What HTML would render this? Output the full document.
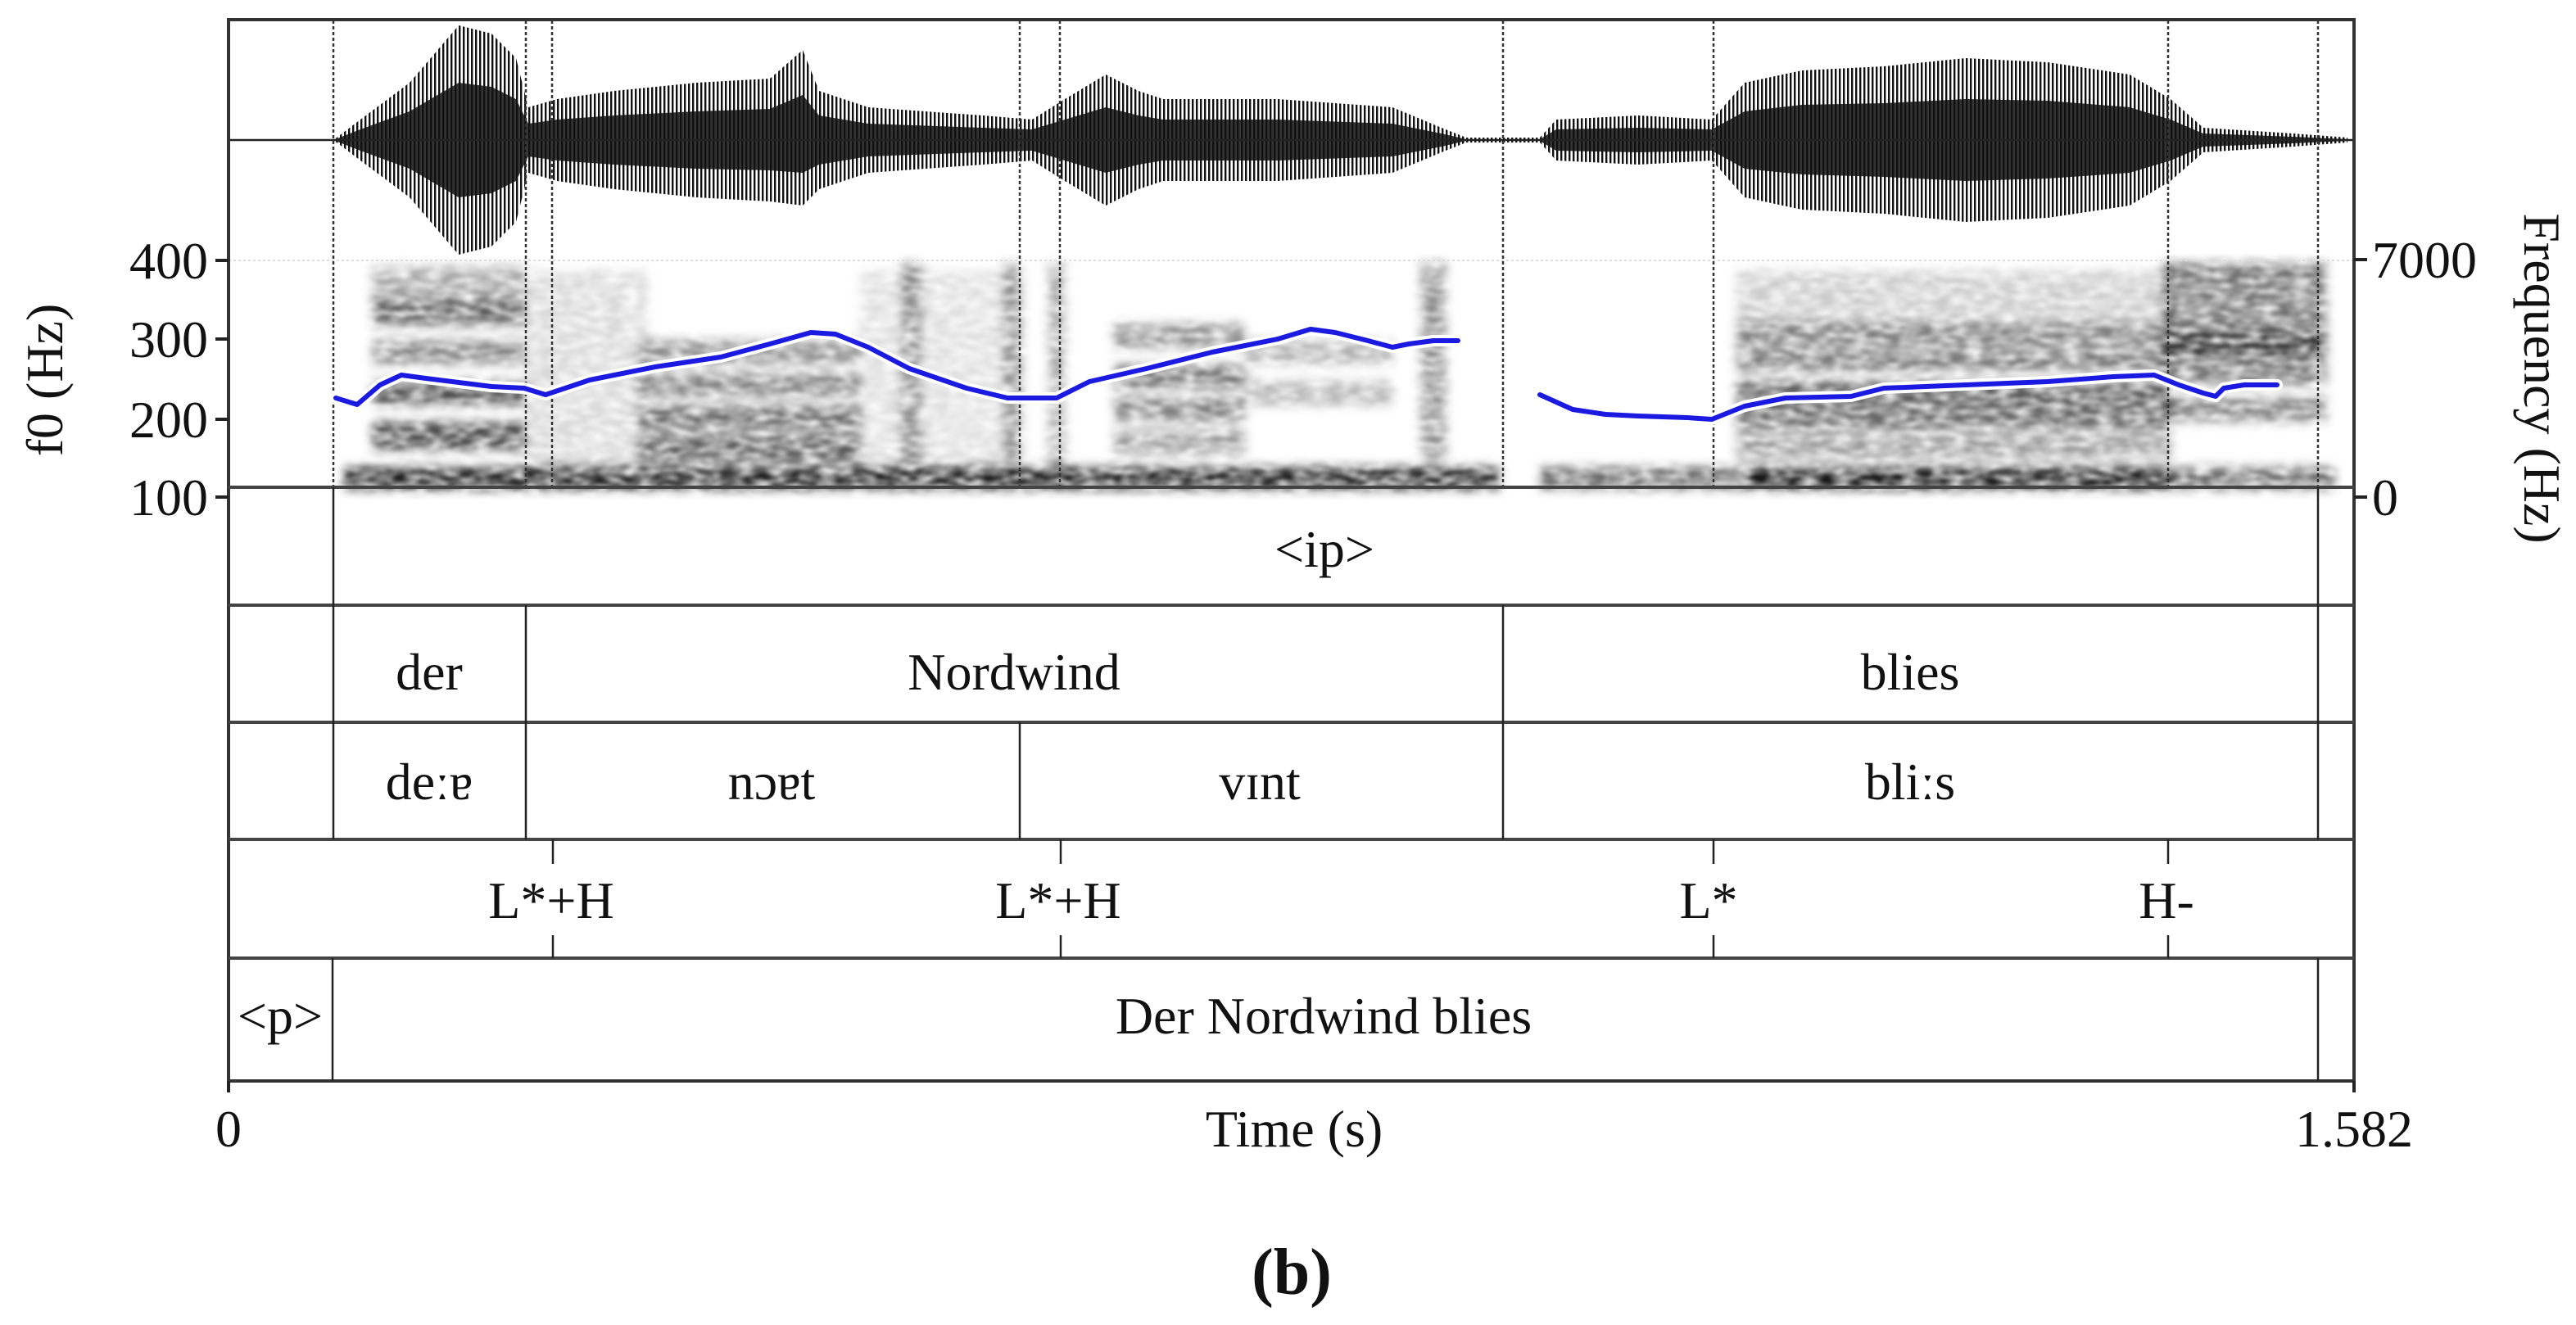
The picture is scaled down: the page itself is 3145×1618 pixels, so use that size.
<!DOCTYPE html>
<html><head><meta charset="utf-8">
<style>
html,body{margin:0;padding:0;background:#fff;}
#wrap{position:relative;width:3145px;height:1618px;overflow:hidden;background:#fff;}
svg{position:absolute;left:0;top:0;}
text{font-family:"Liberation Serif","DejaVu Serif",serif;fill:#111;}
</style></head>
<body>
<div id="wrap">
<svg width="3145" height="1618" viewBox="0 0 3145 1618">
  <defs>
    <pattern id="stripes" x="0" y="0" width="5" height="10" patternUnits="userSpaceOnUse">
      <rect x="0" y="0" width="2.4" height="10" fill="#111"/>
    </pattern>
    <filter id="sp" x="400" y="310" width="2460" height="300" filterUnits="userSpaceOnUse">
      <feGaussianBlur in="SourceGraphic" stdDeviation="6" result="b"/>
      <feTurbulence type="fractalNoise" baseFrequency="0.05 0.15" numOctaves="2" seed="3" result="n"/>
      <feColorMatrix in="n" type="matrix" values="0 0 0 0 0  0 0 0 0 0  0 0 0 0 0  1.8 0 0 0 -0.25" result="na"/>
      <feComposite in="b" in2="na" operator="in" result="c"/>
      <feGaussianBlur in="c" stdDeviation="2"/>
    </filter>
  </defs>

  <!-- spectrogram -->
  <g filter="url(#sp)" fill="#000">
    <rect x="420" y="570" width="1410" height="28" opacity="0.9"/>
    <rect x="1880" y="570" width="970" height="28" opacity="0.6"/>
    <rect x="2130" y="570" width="520" height="28" opacity="0.85"/>
    <rect x="455" y="325" width="185" height="75" opacity="0.35"/>
    <rect x="455" y="365" width="185" height="30" opacity="0.45"/>
    <rect x="455" y="415" width="185" height="30" opacity="0.5"/>
    <rect x="455" y="465" width="185" height="30" opacity="0.7"/>
    <rect x="455" y="515" width="185" height="35" opacity="0.75"/>
    <rect x="640" y="330" width="150" height="260" opacity="0.15"/>
    <rect x="780" y="415" width="270" height="30" opacity="0.45"/>
    <rect x="780" y="455" width="270" height="30" opacity="0.5"/>
    <rect x="780" y="495" width="270" height="30" opacity="0.6"/>
    <rect x="780" y="530" width="270" height="35" opacity="0.65"/>
    <rect x="1050" y="330" width="200" height="260" opacity="0.12"/>
    <rect x="1100" y="320" width="25" height="270" opacity="0.4"/>
    <rect x="1225" y="320" width="20" height="270" opacity="0.4"/>
    <rect x="1280" y="320" width="20" height="270" opacity="0.35"/>
    <rect x="1360" y="395" width="160" height="30" opacity="0.45"/>
    <rect x="1360" y="445" width="160" height="30" opacity="0.55"/>
    <rect x="1360" y="485" width="160" height="30" opacity="0.5"/>
    <rect x="1360" y="525" width="160" height="30" opacity="0.4"/>
    <rect x="1520" y="415" width="180" height="30" opacity="0.3"/>
    <rect x="1520" y="465" width="180" height="30" opacity="0.3"/>
    <rect x="1735" y="320" width="30" height="240" opacity="0.45"/>
    <rect x="2120" y="330" width="530" height="70" opacity="0.2"/>
    <rect x="2120" y="395" width="530" height="30" opacity="0.5"/>
    <rect x="2120" y="428" width="530" height="25" opacity="0.55"/>
    <rect x="2120" y="465" width="530" height="30" opacity="0.65"/>
    <rect x="2120" y="495" width="530" height="30" opacity="0.6"/>
    <rect x="2120" y="530" width="530" height="30" opacity="0.4"/>
    <rect x="2640" y="320" width="200" height="150" opacity="0.55"/>
    <rect x="2640" y="405" width="200" height="30" opacity="0.6"/>
    <rect x="2640" y="485" width="200" height="30" opacity="0.5"/>
  </g>

  <!-- waveform -->
  <polygon fill="url(#stripes)" points="407,171 440,146 500,101 560,31 600,41 630,71 645,131 680,121 750,111 850,101 940,96 980,61 1000,111 1060,131 1200,141 1260,146 1300,121 1350,91 1390,111 1420,121 1560,121 1700,131 1760,156 1790,168 1880,168 1900,146 2000,141 2090,146 2130,101 2200,86 2300,81 2400,71 2500,76 2600,91 2650,121 2690,156 2800,163 2866,168 2866,174 2800,179 2690,186 2650,221 2600,251 2500,266 2400,271 2300,261 2200,256 2130,241 2090,196 2000,201 1900,196 1880,174 1790,174 1760,186 1700,211 1560,221 1420,221 1390,231 1350,251 1300,221 1260,196 1200,201 1060,211 1000,231 980,251 940,246 850,241 750,231 680,221 645,211 630,271 600,301 560,311 500,241 440,196 407,171"/>
  <polygon fill="#111" opacity="0.85" points="407,171 440,158 500,136 560,101 600,106 630,121 645,151 680,146 750,141 850,136 940,133 980,116 1000,141 1060,151 1200,156 1260,158 1300,146 1350,131 1390,141 1420,146 1560,146 1700,151 1760,163 1790,170 1880,170 1900,158 2000,156 2090,158 2130,136 2200,128 2300,126 2400,121 2500,123 2600,131 2650,146 2690,163 2800,167 2866,170 2866,172 2800,175 2690,179 2650,196 2600,211 2500,218 2400,221 2300,216 2200,213 2130,206 2090,184 2000,186 1900,184 1880,172 1790,172 1760,179 1700,191 1560,196 1420,196 1390,201 1350,211 1300,196 1260,184 1200,186 1060,191 1000,201 980,211 940,208 850,206 750,201 680,196 645,191 630,221 600,236 560,241 500,206 440,184 407,171"/>

  <line x1="279" y1="318" x2="2874" y2="318" stroke="#ddd" stroke-width="2" stroke-dasharray="3,3"/>
  <g stroke="#333" stroke-width="2.5" stroke-dasharray="4,3">
    <line x1="407" y1="25" x2="407" y2="595"/>
    <line x1="642" y1="25" x2="642" y2="595"/>
    <line x1="674" y1="25" x2="674" y2="595"/>
    <line x1="1245" y1="25" x2="1245" y2="595"/>
    <line x1="1294" y1="25" x2="1294" y2="595"/>
    <line x1="1835" y1="25" x2="1835" y2="595"/>
    <line x1="2092" y1="25" x2="2092" y2="595"/>
    <line x1="2647" y1="25" x2="2647" y2="595"/>
    <line x1="2830" y1="25" x2="2830" y2="595"/>
  </g>
  <line x1="279" y1="171" x2="2874" y2="171" stroke="#222" stroke-width="2.5"/>

  <g fill="none" stroke-linejoin="round" stroke-linecap="round">
    <path stroke="#fff" stroke-width="14" d="M410,486L436,494L464,470L490,458L520,462L600,472L640,474L666,482L720,464L800,448L880,436L940,420L990,406L1020,408L1060,424L1110,450L1180,474L1230,486L1260,486L1290,486L1330,466L1400,450L1480,430L1560,414L1600,402L1630,406L1670,416L1700,424L1720,420L1750,416L1780,416"/>
    <path stroke="#1a1ae0" stroke-width="6" d="M410,486L436,494L464,470L490,458L520,462L600,472L640,474L666,482L720,464L800,448L880,436L940,420L990,406L1020,408L1060,424L1110,450L1180,474L1230,486L1260,486L1290,486L1330,466L1400,450L1480,430L1560,414L1600,402L1630,406L1670,416L1700,424L1720,420L1750,416L1780,416"/>
    <path stroke="#fff" stroke-width="14" d="M1880,482L1920,500L1960,506L2000,508L2060,510L2090,512L2130,496L2180,486L2260,484L2300,474L2400,470L2500,466L2580,460L2630,458L2660,470L2690,480L2705,484L2715,474L2740,470L2780,470"/>
    <path stroke="#1a1ae0" stroke-width="6" d="M1880,482L1920,500L1960,506L2000,508L2060,510L2090,512L2130,496L2180,486L2260,484L2300,474L2400,470L2500,466L2580,460L2630,458L2660,470L2690,480L2705,484L2715,474L2740,470L2780,470"/>
  </g>

  <rect x="279" y="24" width="2595" height="1296" fill="none" stroke="#333" stroke-width="4"/>
  <g stroke="#444" stroke-width="4">
    <line x1="279" y1="595" x2="2874" y2="595"/>
    <line x1="279" y1="739" x2="2874" y2="739"/>
    <line x1="279" y1="882" x2="2874" y2="882"/>
    <line x1="279" y1="1025" x2="2874" y2="1025"/>
    <line x1="279" y1="1170" x2="2874" y2="1170"/>
  </g>
  <g stroke="#222" stroke-width="2.5">
    <line x1="407" y1="595" x2="407" y2="739"/>
    <line x1="2830" y1="595" x2="2830" y2="739"/>
    <line x1="407" y1="739" x2="407" y2="882"/>
    <line x1="642" y1="739" x2="642" y2="882"/>
    <line x1="1835" y1="739" x2="1835" y2="882"/>
    <line x1="2830" y1="739" x2="2830" y2="882"/>
    <line x1="407" y1="882" x2="407" y2="1025"/>
    <line x1="642" y1="882" x2="642" y2="1025"/>
    <line x1="1245" y1="882" x2="1245" y2="1025"/>
    <line x1="1835" y1="882" x2="1835" y2="1025"/>
    <line x1="2830" y1="882" x2="2830" y2="1025"/>
    <line x1="675" y1="1025" x2="675" y2="1055"/><line x1="675" y1="1142" x2="675" y2="1170"/>
    <line x1="1295" y1="1025" x2="1295" y2="1055"/><line x1="1295" y1="1142" x2="1295" y2="1170"/>
    <line x1="2092" y1="1025" x2="2092" y2="1055"/><line x1="2092" y1="1142" x2="2092" y2="1170"/>
    <line x1="2647" y1="1025" x2="2647" y2="1055"/><line x1="2647" y1="1142" x2="2647" y2="1170"/>
    <line x1="406" y1="1170" x2="406" y2="1320"/>
    <line x1="2830" y1="1170" x2="2830" y2="1320"/>
  </g>
  <g stroke="#222" stroke-width="4">
    <line x1="263" y1="318" x2="279" y2="318"/>
    <line x1="263" y1="414" x2="279" y2="414"/>
    <line x1="263" y1="512" x2="279" y2="512"/>
    <line x1="263" y1="607" x2="279" y2="607"/>
    <line x1="2874" y1="317" x2="2890" y2="317"/>
    <line x1="2874" y1="607" x2="2890" y2="607"/>
    <line x1="279" y1="1320" x2="279" y2="1334"/>
    <line x1="2874" y1="1320" x2="2874" y2="1334"/>
  </g>
  <g font-size="64">
    <text x="254" y="340" text-anchor="end">400</text>
    <text x="254" y="436" text-anchor="end">300</text>
    <text x="254" y="534" text-anchor="end">200</text>
    <text x="254" y="629" text-anchor="end">100</text>
    <text x="2896" y="339">7000</text>
    <text x="2896" y="629">0</text>
    <text transform="translate(76,464) rotate(-90)" text-anchor="middle">f0 (Hz)</text>
    <text transform="translate(3082,462) rotate(90)" text-anchor="middle">Frequency (Hz)</text>

    <text x="1617" y="692" text-anchor="middle">&lt;ip&gt;</text>
    <text x="524" y="842" text-anchor="middle">der</text>
    <text x="1238" y="842" text-anchor="middle">Nordwind</text>
    <text x="2332" y="842" text-anchor="middle">blies</text>
    <text x="524" y="976" text-anchor="middle">deːɐ</text>
    <text x="942" y="976" text-anchor="middle">nɔɐt</text>
    <text x="1538" y="976" text-anchor="middle">vɪnt</text>
    <text x="2332" y="976" text-anchor="middle">bliːs</text>
    <text x="673" y="1121" text-anchor="middle">L*+H</text>
    <text x="1292" y="1121" text-anchor="middle">L*+H</text>
    <text x="2086" y="1121" text-anchor="middle">L*</text>
    <text x="2645" y="1121" text-anchor="middle">H-</text>
    <text x="342" y="1262" text-anchor="middle">&lt;p&gt;</text>
    <text x="1616" y="1262" text-anchor="middle">Der Nordwind blies</text>

    <text x="279" y="1400" text-anchor="middle">0</text>
    <text x="1580" y="1400" text-anchor="middle">Time (s)</text>
    <text x="2874" y="1400" text-anchor="middle">1.582</text>
  </g>
  <text x="1577" y="1580" text-anchor="middle" font-size="80" font-weight="bold">(b)</text>
</svg>
</div>
</body></html>
